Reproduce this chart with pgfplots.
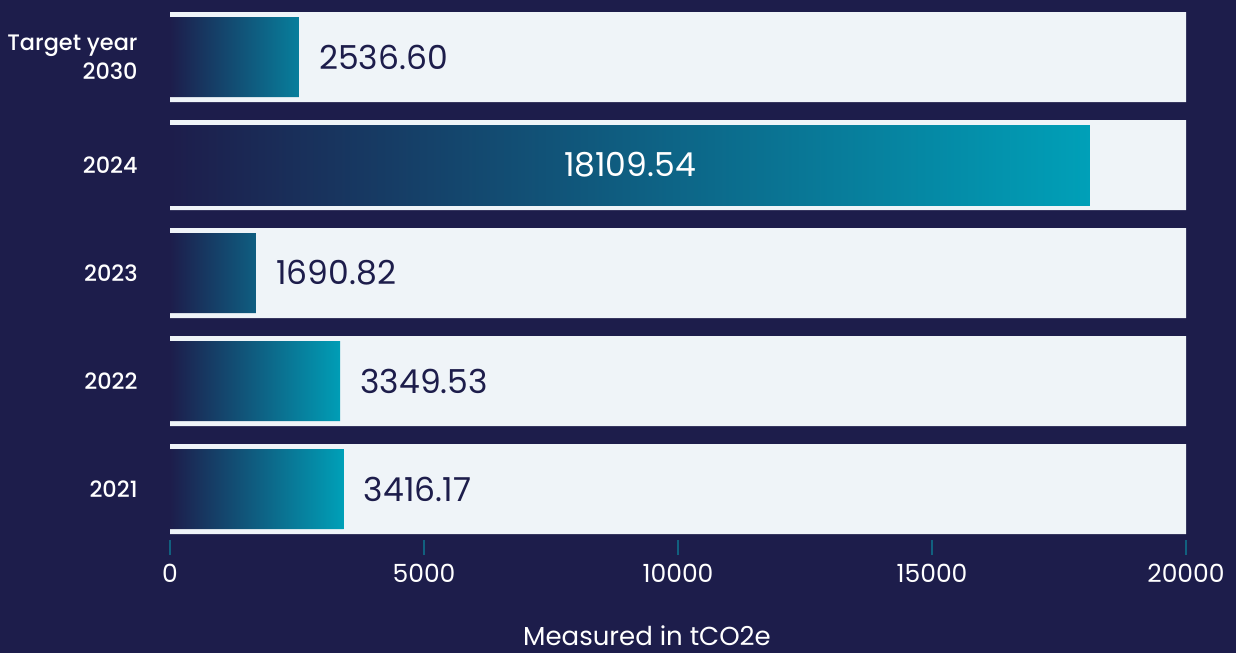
\documentclass[border=0pt]{standalone}
\usepackage{pgfplots}
\pgfplotsset{compat=1.18}
\usepackage{fontspec}
\setmainfont{Poppins}
\newfontfamily\medfont{Poppins Medium}

\definecolor{bgc}{HTML}{1D1D4B}
\definecolor{panel}{HTML}{EFF4F8}
\definecolor{tealc}{HTML}{00A0B8}
\definecolor{midc}{HTML}{124C6F}
\definecolor{tickc}{HTML}{11607F}

\begin{document}
\begin{tikzpicture}
\fill[bgc] (0,0) rectangle (618pt,326.5pt);
\useasboundingbox (0,0) rectangle (618pt,326.5pt);
\begin{axis}[
    at={(85pt,56.5pt)}, anchor=south west,
    scale only axis, width=508pt, height=270pt,
    xmin=0, xmax=20000, ymin=-0.4722, ymax=4.5278,
    axis x line*=bottom, axis y line*=left,
    axis line style={draw=none},
    xbar, bar shift=0pt,
    scaled x ticks=false,
    /pgf/number format/assume math mode=true,
    /pgf/number format/1000 sep={},
    xticklabel={\pgfmathprintnumber[fixed,precision=0,1000 sep={},assume math mode=true]{\tick}},
    xtick={0,5000,10000,15000,20000},
    ytick={0,1,2,3,4},
    yticklabels={2021,2022,2023,2024,{Target year\\2030}},
    tick align=outside,
    x tick style={draw=tickc, line width=0.8pt},
    major tick length=7.5pt,
    y tick style={draw=none},
    xticklabel style={text=white, font=\fontsize{12.5}{15}\selectfont, yshift=-1pt},
    yticklabel style={text=white, font=\medfont\fontsize{11.2}{14.5}\selectfont, align=right, anchor=east, inner sep=0pt},
    yticklabel shift=8.5pt,
    xlabel={Measured in tCO2e},
    every axis x label/.style={at={(axis description cs:0.4695,0)}, anchor=base, yshift=-52.5pt,
        text=white, font=\fontsize{13}{16}\selectfont},
    point meta=x,
]
\addplot[fill=panel, draw=none, bar width=45pt]
    coordinates {(20000,0) (20000,1) (20000,2) (20000,3) (20000,4)};
\addplot[draw=none, bar width=40pt, left color=bgc, middle color=midc, right color=tealc,
    nodes near coords={\pgfmathprintnumber[fixed,fixed zerofill,precision=2,1000 sep={},assume math mode=true]{\pgfplotspointmeta}},
    every node near coord/.append style={text=bgc, anchor=west, inner sep=0pt, xshift=10pt,
        font=\fontsize{16.5}{20}\selectfont}]
    coordinates {(3416.17,0) (3349.53,1) (1690.82,2) (2536.60,4)};
\addplot[draw=none, bar width=40pt, left color=bgc, middle color=midc, right color=tealc]
    coordinates {(18109.54,3)};
\addplot[draw=none, fill=none, bar width=40pt, point meta=explicit,
    nodes near coords={\pgfmathprintnumber[fixed,fixed zerofill,precision=2,1000 sep={},assume math mode=true]{\pgfplotspointmeta}},
    every node near coord/.append style={text=white, anchor=center, inner sep=0pt,
        font=\fontsize{16.5}{20}\selectfont}]
    coordinates {(9054.77,3) [18109.54]};
\end{axis}
\end{tikzpicture}
\end{document}
